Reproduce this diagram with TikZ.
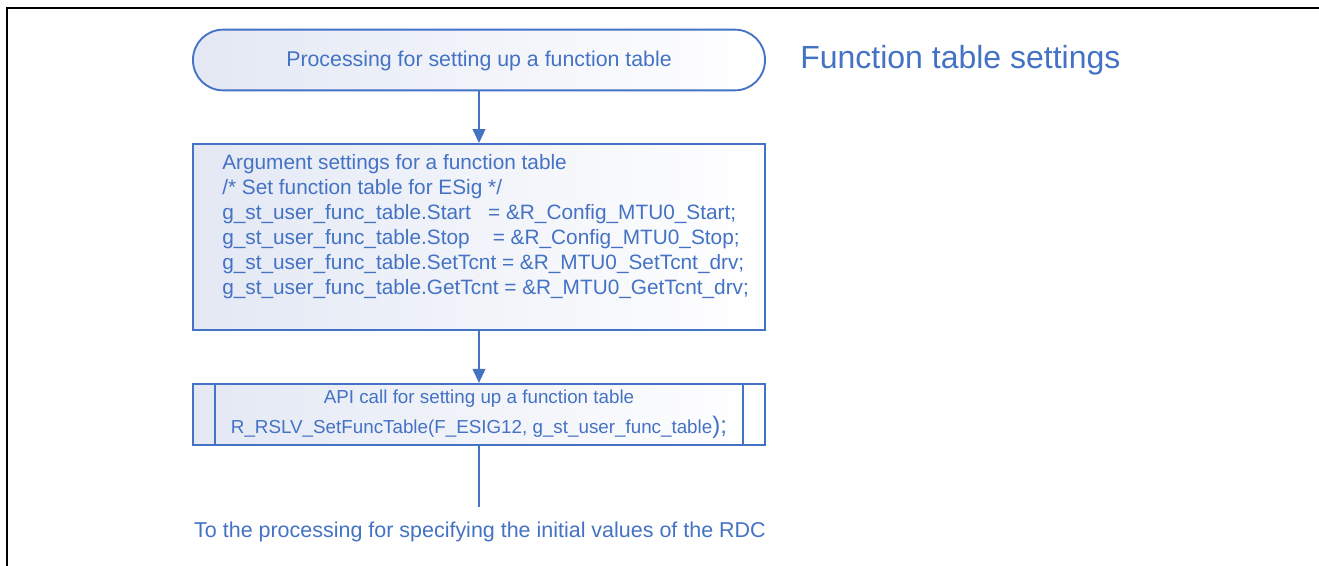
\documentclass[tikz,border=0pt]{standalone}
\usepackage{fontspec}
\setmainfont{Liberation Sans}
\usetikzlibrary{arrows.meta}
\definecolor{fblue}{HTML}{4472C4}
\definecolor{ffill}{HTML}{E3E8F4}
\begin{document}
\begin{tikzpicture}[x=0.75pt,y=-0.75pt,
  shapebox/.style={draw=fblue, line width=1.4pt, left color=ffill, right color=white,
    minimum width=429pt, inner sep=0pt},
  conn/.style={draw=fblue, line width=1.5pt},
  arr/.style={conn, -{Triangle[length=10.5pt,width=9.5pt]}},
  txt/.style={text=fblue, inner sep=0pt},
  frameline/.style={draw=black, line width=2.2pt}
]
\useasboundingbox (0,0) rectangle (1319,565);
\draw[frameline] (7,566) -- (7,8) -- (1320,8);

% terminal
\node[shapebox, rounded corners=22.5pt, minimum height=45.5pt] (term) at (479,60) {};
\node[txt, anchor=base, font=\fontsize{16}{19}\selectfont] (termtxt) at (479,66.5)
  {Processing for setting up a function table};

% title
\node[txt, anchor=base west, font=\fontsize{24}{28}\selectfont] (title) at (800,68)
  {Function table settings};

% process box
\node[shapebox, minimum height=139.5pt] (proc) at (479,237) {};
\node[txt, anchor=north west, align=left, font=\fontsize{15.6}{18.75}\selectfont] (proctxt) at (222,154.3)
  {Argument settings for a function table\\
   /* Set function table for ESig */\\
   g\_st\_user\_func\_table.Start\ \ \ = \&R\_Config\_MTU0\_Start;\\
   g\_st\_user\_func\_table.Stop\ \ \ \ = \&R\_Config\_MTU0\_Stop;\\
   g\_st\_user\_func\_table.SetTcnt = \&R\_MTU0\_SetTcnt\_drv;\\
   g\_st\_user\_func\_table.GetTcnt = \&R\_MTU0\_GetTcnt\_drv;};

% predefined process box
\node[shapebox, minimum height=46pt, align=center, text=fblue,
      font=\fontsize{14.1}{22.5}\selectfont] (api) at (479,414.5)
  {API call for setting up a function table\\
   R\_RSLV\_SetFuncTable(F\_ESIG12, g\_st\_user\_func\_table{\fontsize{18}{18}\selectfont );}};
\draw[conn, line width=1.4pt] ([xshift=17.25pt]api.north west) -- ([xshift=17.25pt]api.south west);
\draw[conn, line width=1.4pt] ([xshift=-17.25pt]api.north east) -- ([xshift=-17.25pt]api.south east);

% connectors
\draw[arr] (term.south) -- (proc.north);
\draw[arr] (proc.south) -- (api.north);
\coordinate (lineend) at (479,507);
\draw[conn] (api.south) -- (lineend);

\node[txt, anchor=base, font=\fontsize{16.1}{19}\selectfont] (note) at (480,537)
  {To the processing for specifying the initial values of the RDC};
\end{tikzpicture}
\end{document}
